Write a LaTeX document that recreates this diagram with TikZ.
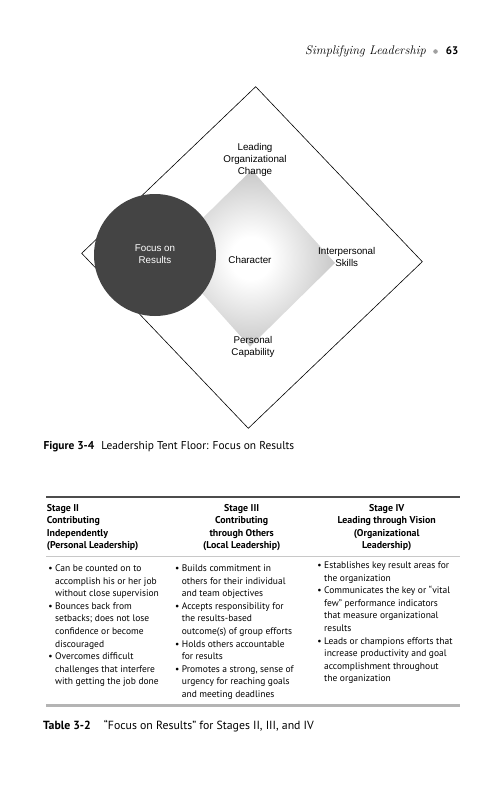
\documentclass[tikz,border=0pt]{standalone}
\usepackage{fontspec}
\newfontfamily\tf{PT Sans}
\newfontfamily\af{Liberation Sans}
\definecolor{circ}{HTML}{444444}
\definecolor{rulelight}{HTML}{B4B4B4}
\definecolor{rulemid}{HTML}{C8C8C8}
\definecolor{dotgray}{HTML}{A0A0A0}
\pgfdeclareradialshading{tent}{\pgfpoint{0bp}{0bp}}{color(0bp)=(white); color(6bp)=(white); color(30bp)=(black!27); color(50bp)=(black!50)}
\tikzset{
  lbl/.style={font=\af\fontsize{9.8}{12}\selectfont, align=center, inner sep=0pt},
  body/.style={font=\tf\fontsize{9.5}{12.6}\selectfont, align=left, inner sep=0pt, anchor=base west},
  head/.style={font=\tf\bfseries\fontsize{9.9}{12.4}\selectfont, inner sep=0pt, anchor=base},
  captxt/.style={inner sep=0pt, anchor=base west}
}
\newcommand{\bul}{\llap{\textbullet\hspace{2.6pt}}}
\begin{document}
\begin{tikzpicture}[x=1pt,y=-1pt]
\useasboundingbox (0,0) rectangle (503,800);
\fill[white] (0,0) rectangle (503,800);
% page header
\node[inner sep=0pt, anchor=base east] (runhead) at (426,55) {\fontsize{12.5}{14}\selectfont\itshape Simplifying Leadership};
\node[circle, fill=dotgray, inner sep=1.6pt] (hdot) at (435.5,51.5) {};
\node[inner sep=0pt, anchor=base east, font=\tf\bfseries\fontsize{11}{13}\selectfont] (pageno) at (458.5,55) {63};
% outer diamond
\coordinate (ot) at (255.7,86.7);
\coordinate (or) at (422.3,261.7);
\coordinate (ob) at (248.3,428.3);
\coordinate (ol) at (81.7,253.3);
\draw[line width=0.6pt] (ot) -- (or) -- (ob) -- (ol) -- cycle;
% inner shaded diamond
\coordinate (it) at (251.7,170);
\coordinate (ir) at (335,263);
\coordinate (ib) at (250,346.7);
\coordinate (il) at (166.6,253.6);
\shade[shading=tent] (it) -- (ir) -- (ib) -- (il) -- cycle;
% circle
\fill[circ] (155,255) circle (61);
% labels
\node[lbl] (loc) at (255,160) {Leading\\Organizational\\Change};
\node[lbl, text=white] (for) at (155,254.5) {Focus on\\Results};
\node[lbl] (chr) at (250,260) {Character};
\node[lbl] (ips) at (346.7,256.7) {Interpersonal\\Skills};
\node[lbl] (pc) at (253,347) {Personal\\Capability};
% figure caption
\node[captxt, font=\tf\fontsize{11.4}{13}\selectfont] (figcap) at (43.3,449) {\bfseries Figure 3-4\hspace{7pt}\mdseries Leadership Tent Floor: Focus on Results};
% table rules
\coordinate (r1l) at (46,497); \coordinate (r1r) at (460,497);
\coordinate (r2l) at (46,556.5); \coordinate (r2r) at (460,556.5);
\coordinate (r3l) at (46,705.5); \coordinate (r3r) at (460,705.5);
\draw[line width=1.1pt, black!70] (r1l) -- (r1r);
\draw[line width=0.6pt, rulemid] (r2l) -- (r2r);
\draw[line width=2.2pt, rulelight] (r3l) -- (r3r);
% table header (anchor base = last line)
\node[head, align=left, anchor=base west] (h1) at (46.7,548.5) {Stage II\\Contributing\\Independently\\(Personal Leadership)};
\node[head, align=center] (h2) at (241.7,548.5) {Stage III\\Contributing\\through Others\\(Local Leadership)};
\node[head, align=center] (h3) at (386.7,548.5) {Stage IV\\Leading through Vision\\(Organizational\\Leadership)};
% table body (anchor base = last line)
\node[body] (b1) at (55,684.9) {\bul Can be counted on to\\accomplish his or her job\\without close supervision\\\bul Bounces back from\\setbacks; does not lose\\confidence or become\\discouraged\\\bul Overcomes difficult\\challenges that interfere\\with getting the job done};
\node[body] (b2) at (181.7,697.5) {\bul Builds commitment in\\others for their individual\\and team objectives\\\bul Accepts responsibility for\\the results-based\\outcome(s) of group efforts\\\bul Holds others accountable\\for results\\\bul Promotes a strong, sense of\\urgency for reaching goals\\and meeting deadlines};
\node[body] (b3) at (324,681.9) {\bul Establishes key result areas for\\the organization\\\bul Communicates the key or “vital\\few” performance indicators\\that measure organizational\\results\\\bul Leads or champions efforts that\\increase productivity and goal\\accomplishment throughout\\the organization};
% table caption
\node[captxt, font=\tf\fontsize{11.8}{13}\selectfont] (tabcap) at (43,729) {\bfseries Table 3-2\hspace{13pt}\mdseries “Focus on Results” for Stages II, III, and IV};
\end{tikzpicture}
\end{document}
